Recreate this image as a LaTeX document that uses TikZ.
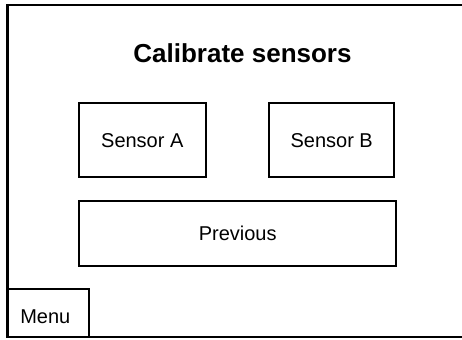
\documentclass[tikz,border=0pt]{standalone}
\usepackage{fontspec}
\setmainfont{Liberation Sans}
\begin{document}
\begin{tikzpicture}[x=0.75pt,y=-0.75pt,
  frame/.style={draw=black,line width=2pt},
  box/.style={draw=black,line width=1.6pt,rectangle,inner sep=0pt},
  lbl/.style={font=\fontsize{15}{18}\selectfont,inner sep=0pt}]
\useasboundingbox (0,0) rectangle (462,340);
\draw[frame] (7.5,5) rectangle (475,337);
\node[lbl,font=\fontsize{19.5}{23}\bfseries\selectfont] (title) at (242.5,53) {Calibrate sensors};
\node[box,minimum width=126.7pt*0.75/0.75*0.75,minimum height=73.7*0.75pt] (sa) at (142.3,140.2) {};
\node[lbl] at (sa.center) {Sensor A};
\node[box,minimum width=125.3*0.75pt,minimum height=73.7*0.75pt] (sb) at (331.7,140.2) {};
\node[lbl] at (sb.center) {Sensor B};
\node[box,minimum width=317.3*0.75pt,minimum height=65*0.75pt] (prev) at (237.7,233.8) {};
\node[lbl] at (prev.center) {Previous};
\draw[box] (7.5,289) rectangle (89,337);
\node[lbl,anchor=west] (menu) at (20,317) {Menu};
\end{tikzpicture}
\end{document}
